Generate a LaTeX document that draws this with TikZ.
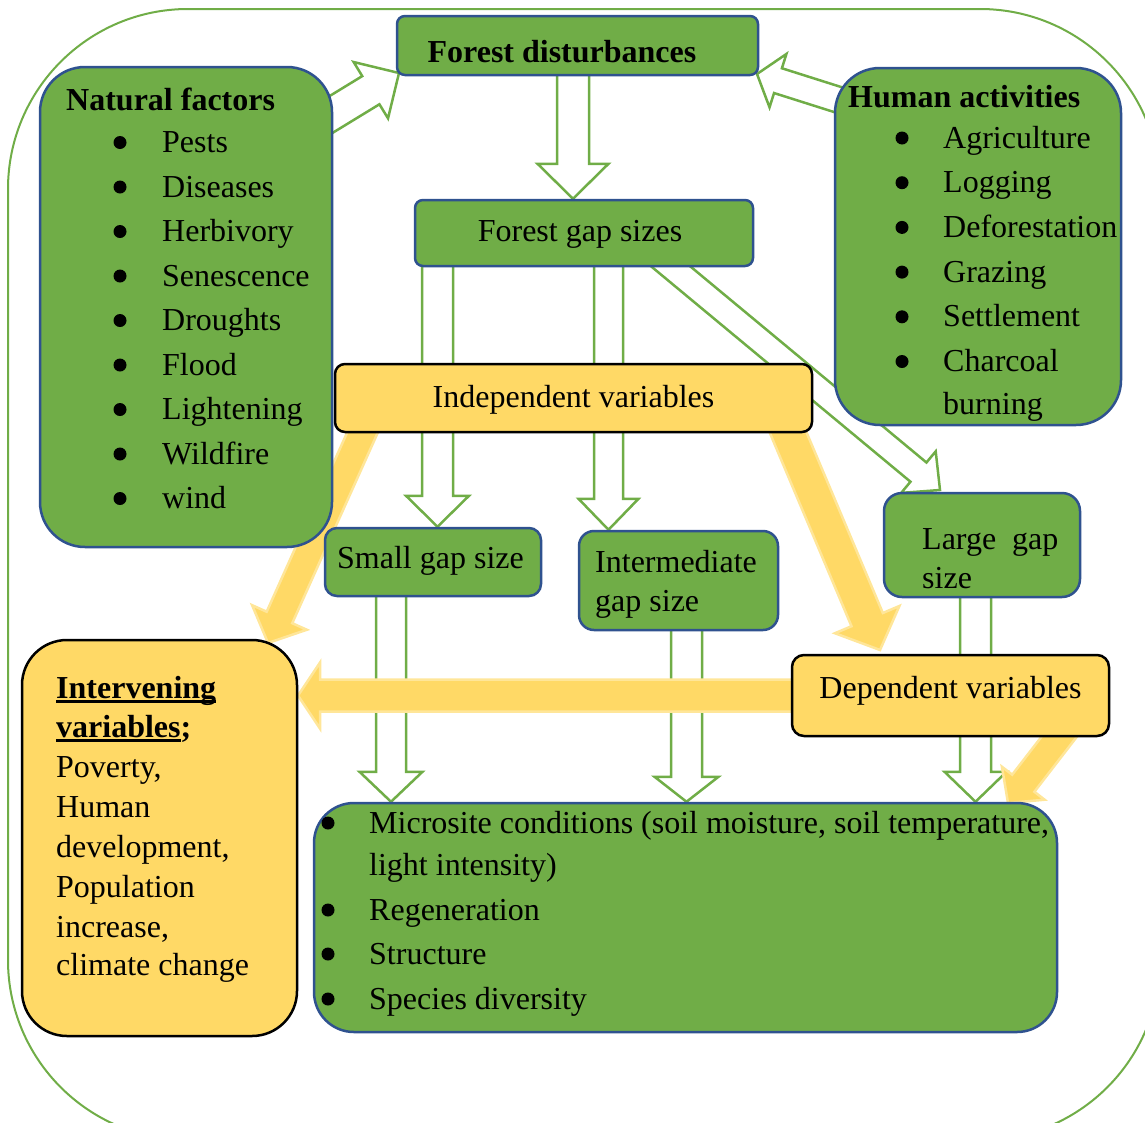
\documentclass[tikz,border=0pt]{standalone}
\usepackage{fontspec}
\setmainfont{Liberation Serif}
\usetikzlibrary{calc}
\definecolor{gfill}{HTML}{70AD47}
\definecolor{bdblue}{HTML}{2F528F}
\definecolor{yfill}{HTML}{FFD966}
\definecolor{ylight}{HTML}{FFE699}
\definecolor{gline}{HTML}{70AD47}
\pgfdeclarelayer{back}
\pgfdeclarelayer{garr}
\pgfdeclarelayer{yarr}
\pgfsetlayers{back,garr,yarr,main}
% style, start, tip, half shaft, half head, head length
\newcommand\blockarrow[6]{%
  \path ($(#3)!#6!(#2)$) coordinate (bah);
  \draw[#1] ($(#2)!#4!90:(#3)$) -- ($(bah)!#4!90:(#3)$) -- ($(bah)!#5!90:(#3)$) -- (#3)
    -- ($(bah)!#5!-90:(#3)$) -- ($(bah)!#4!-90:(#3)$) -- ($(#2)!#4!-90:(#3)$) -- cycle;
}
\newcommand\myul[1]{\leavevmode\setbox0\hbox{#1}\rlap{\rule[-5pt]{\wd0}{3pt}}\box0}
\begin{document}
\begin{tikzpicture}[x=1pt,y=-1pt,
  font=\fontsize{32}{38}\selectfont,
  gbox/.style={draw=bdblue, fill=gfill, line width=2.5pt, inner sep=0pt},
  ybox/.style={draw=black, fill=yfill, line width=2.5pt, inner sep=0pt},
  garrow/.style={draw=gline, line width=2.5pt, line join=miter},
  yarrow/.style={fill=yfill, draw=ylight, line width=2.5pt, line join=miter},
  txt/.style={inner sep=0pt, anchor=base west},
  ctxt/.style={inner sep=0pt, anchor=base},
  bul/.style={fill=black},
  outer/.style={draw=gline, line width=2pt, rounded corners=180pt}]
\useasboundingbox (0,0) rectangle (1145,1122);
\clip (0,0) rectangle (1145,1122);

% ---------- boxes ----------
\node[gbox, rounded corners=8pt,  minimum width=361pt, minimum height=59pt]  (fd)  at (577.5,45.5) {};
\node[gbox, rounded corners=45pt, minimum width=292pt, minimum height=480pt] (nf)  at (186,307) {};
\node[gbox, rounded corners=45pt, minimum width=286pt, minimum height=357pt] (ha)  at (978,246.5) {};
\node[gbox, rounded corners=8pt,  minimum width=338pt, minimum height=66pt]  (fgs) at (584,233) {};
\node[ybox, rounded corners=10pt, minimum width=477pt, minimum height=68pt]  (ind) at (573.5,398) {};
\node[gbox, rounded corners=12pt, minimum width=216pt, minimum height=68pt]  (sg)  at (433,562) {};
\node[gbox, rounded corners=15pt, minimum width=199pt, minimum height=99pt]  (ig)  at (678.5,580.5) {};
\node[gbox, rounded corners=18pt, minimum width=196pt, minimum height=104pt] (lg)  at (982,545) {};
\node[ybox, rounded corners=12pt, minimum width=317pt, minimum height=81pt]  (dv)  at (950.5,695.5) {};
\node[ybox, rounded corners=45pt, minimum width=275pt, minimum height=396pt] (inv) at (159.5,838) {};
\node[gbox, rounded corners=40pt, minimum width=743pt, minimum height=229pt] (ms)  at (685.5,917.5) {};

% ---------- outer frame ----------
\begin{pgfonlayer}{back}
\draw[outer] (8,9) rectangle (1160,1140);
\end{pgfonlayer}

% ---------- hollow green arrows ----------
\begin{pgfonlayer}{garr}
\coordinate (g1a) at (573,0 |- fd.center);   \coordinate (g1b) at (573,0 |- fgs.north);
\coordinate (g2a) at (437.5,0 |- fgs.center); \coordinate (g2b) at (437.5,0 |- sg.north);
\coordinate (g3a) at (608.5,0 |- fgs.center); \coordinate (g3b) at (608.5,0 |- ig.north);
\coordinate (g4a) at (651,250);               \coordinate (g4b) at (940,490);
\coordinate (g5a) at (391,0 |- sg.center);    \coordinate (g5b) at (391,0 |- ms.north);
\coordinate (g6a) at (686.5,0 |- ig.center);  \coordinate (g6b) at (686.5,0 |- ms.north);
\coordinate (g7a) at (975.5,0 |- lg.center);  \coordinate (g7b) at (975.5,0 |- ms.north);
\coordinate (g8a) at (313,125.5);             \coordinate (g8b) at (399,73);
\coordinate (g9a) at (858,106);               \coordinate (g9b) at (757,74);
\blockarrow{garrow}{g1a}{g1b}{16pt}{35.5pt}{35pt}
\blockarrow{garrow}{g2a}{g2b}{15.5pt}{31.5pt}{31pt}
\blockarrow{garrow}{g3a}{g3b}{14.5pt}{30pt}{31pt}
\blockarrow{garrow}{g4a}{g4b}{12.5pt}{27pt}{28pt}
\blockarrow{garrow}{g5a}{g5b}{15pt}{31.5pt}{30pt}
\blockarrow{garrow}{g6a}{g6b}{15.5pt}{32pt}{25pt}
\blockarrow{garrow}{g7a}{g7b}{15.5pt}{31pt}{30pt}
\blockarrow{garrow}{g8a}{g8b}{16.5pt}{33pt}{33pt}
\blockarrow{garrow}{g9a}{g9b}{13pt}{28pt}{22pt}
\end{pgfonlayer}

% ---------- solid yellow arrows ----------
\begin{pgfonlayer}{yarr}
\coordinate (y1a) at (369,418);  \coordinate (y1b) at (268,643);
\coordinate (y2a) at (782,418);  \coordinate (y2b) at (880,650);
\coordinate (y3a) at (800,0 |- dv.center);  \coordinate (y3b) at (298,0 |- dv.center);
\coordinate (y4a) at (1069,724); \coordinate (y4b) at (1008,803);
\blockarrow{yarrow}{y1a}{y1b}{14pt}{30pt}{28pt}
\blockarrow{yarrow}{y2a}{y2b}{17pt}{35pt}{33pt}
\blockarrow{yarrow}{y3a}{y3b}{16pt}{33pt}{22pt}
\blockarrow{yarrow}{y4a}{y4b}{14pt}{27pt}{25pt}
\end{pgfonlayer}

% ---------- texts ----------
\node[ctxt, font=\fontsize{32}{38}\selectfont\bfseries] (tfd) at (562,62) {Forest disturbances};
\node[txt, font=\fontsize{32}{38}\selectfont\bfseries] (tnf) at (66,110) {Natural factors};
\foreach \t [count=\i] in {Pests,Diseases,Herbivory,Senescence,Droughts,Flood,Lightening,Wildfire,wind} {
  \node[txt] (nft\i) at (162,{152.5+44.5*(\i-1)}) {\t};
  \fill[bul] (120,{142.5+44.5*(\i-1)}) circle (6.5pt);
}
\node[txt, font=\fontsize{32}{38}\selectfont\bfseries] (tha) at (848,107) {Human activities};
\foreach \t [count=\i] in {Agriculture,Logging,Deforestation,Grazing,Settlement,Charcoal} {
  \node[txt] (hat\i) at (943,{148+44.7*(\i-1)}) {\t};
  \fill[bul] (902,{138+44.7*(\i-1)}) circle (6.5pt);
}
\node[txt] (hat7) at (943,414) {burning};
\node[ctxt] (tfgs) at (580,241) {Forest gap sizes};
\node[ctxt] (tind) at (573.5,407) {Independent variables};
\node[ctxt] (tsg) at (430.5,568) {Small gap size};
\node[txt] (tig1) at (595,572) {Intermediate};
\node[txt] (tig2) at (595,611) {gap size};
\node[txt] (tlg1) at (922,549) {Large \ gap};
\node[txt] (tlg2) at (922,588) {size};
\node[ctxt] (tdv) at (950.5,698) {Dependent variables};
\node[txt, font=\fontsize{32}{38}\selectfont\bfseries] (tin1) at (56,698) {\myul{Intervening}};
\node[txt, font=\fontsize{32}{38}\selectfont\bfseries] (tin2) at (56,737) {\myul{variables};};
\node[txt] (tin3) at (56,777) {Poverty,};
\node[txt] (tin4) at (56,817) {Human};
\node[txt] (tin5) at (56,857) {development,};
\node[txt] (tin6) at (56,897) {Population};
\node[txt] (tin7) at (56,937) {increase,};
\node[txt] (tin8) at (56,975) {climate change};
\node[txt] (tms1) at (369,833) {Microsite conditions (soil moisture, soil temperature,};
\node[txt] (tms2) at (369,875) {light intensity)};
\node[txt] (tms3) at (369,920) {Regeneration};
\node[txt] (tms4) at (369,964) {Structure};
\node[txt] (tms5) at (369,1009) {Species diversity};
\foreach \y in {823,910,954,999} { \fill[bul] (328,\y) circle (6.5pt); }
\end{tikzpicture}
\end{document}
